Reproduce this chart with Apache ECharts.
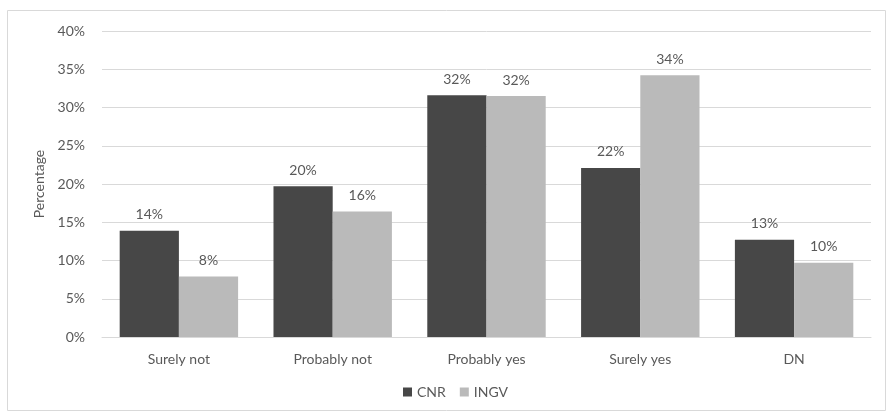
<!DOCTYPE html>
<html>
<head>
<meta charset="utf-8">
<script src="https://cdn.jsdelivr.net/npm/echarts@6/dist/echarts.min.js"></script>
<style>
html,body{margin:0;padding:0;background:#fff;}
#c{width:887px;height:418px;}
</style>
</head>
<body>
<div id="c"></div>
<script>
var categories = ['Surely not', 'Probably not', 'Probably yes', 'Surely yes', 'DN'];
var cnrValues = [13.9, 19.7, 31.6, 22.1, 12.7];
var ingvValues = [7.9, 16.4, 31.5, 34.2, 9.7];
var seriesNames = ['CNR', 'INGV'];

var textColor = '#595959';
var fontFamily = 'Lato, "Open Sans", sans-serif';
var fs = 14;
var chart = echarts.init(document.getElementById('c'));
function lbl() {
  return {
    show: true, position: 'top', distance: 9,
    color: textColor, fontSize: fs, fontFamily: fontFamily,
    formatter: function (p) { return Math.round(p.value) + '%'; }
  };
}
chart.setOption({
  animation: false,
  textStyle: { fontFamily: fontFamily },
  graphic: [{
    type: 'rect', shape: { x: 7.5, y: 10.5, width: 878, height: 400 },
    style: { fill: 'none', stroke: '#d9d9d9', lineWidth: 1 }, silent: true
  }],
  grid: { left: 102, right: 16, top: 31, bottom: 81, containLabel: false },
  legend: {
    data: seriesNames, bottom: 14, left: 398,
    itemWidth: 9, itemHeight: 9, itemGap: 14, icon: 'rect',
    textStyle: { color: textColor, fontSize: fs, fontFamily: fontFamily }
  },
  xAxis: {
    type: 'category', data: categories,
    axisLine: { lineStyle: { color: '#d9d9d9' } },
    axisTick: { show: false },
    axisLabel: { color: textColor, fontSize: fs, margin: 15, fontFamily: fontFamily }
  },
  yAxis: {
    type: 'value', min: 0, max: 40, interval: 5,
    name: 'Percentage', nameLocation: 'middle', nameGap: 54, nameRotate: 90,
    nameTextStyle: { color: textColor, fontSize: fs, fontFamily: fontFamily },
    axisLine: { show: false }, axisTick: { show: false },
    axisLabel: { color: textColor, fontSize: fs, margin: 17, formatter: '{value}%', fontFamily: fontFamily },
    splitLine: { lineStyle: { color: '#d9d9d9' } }
  },
  series: [
    { name: 'CNR', type: 'bar', data: cnrValues, barGap: '0%', barCategoryGap: '23%',
      itemStyle: { color: '#474747' }, label: lbl() },
    { name: 'INGV', type: 'bar', data: ingvValues, barGap: '0%', barCategoryGap: '23%',
      itemStyle: { color: '#bababa' }, label: lbl() }
  ]
});
</script>
</body>
</html>
